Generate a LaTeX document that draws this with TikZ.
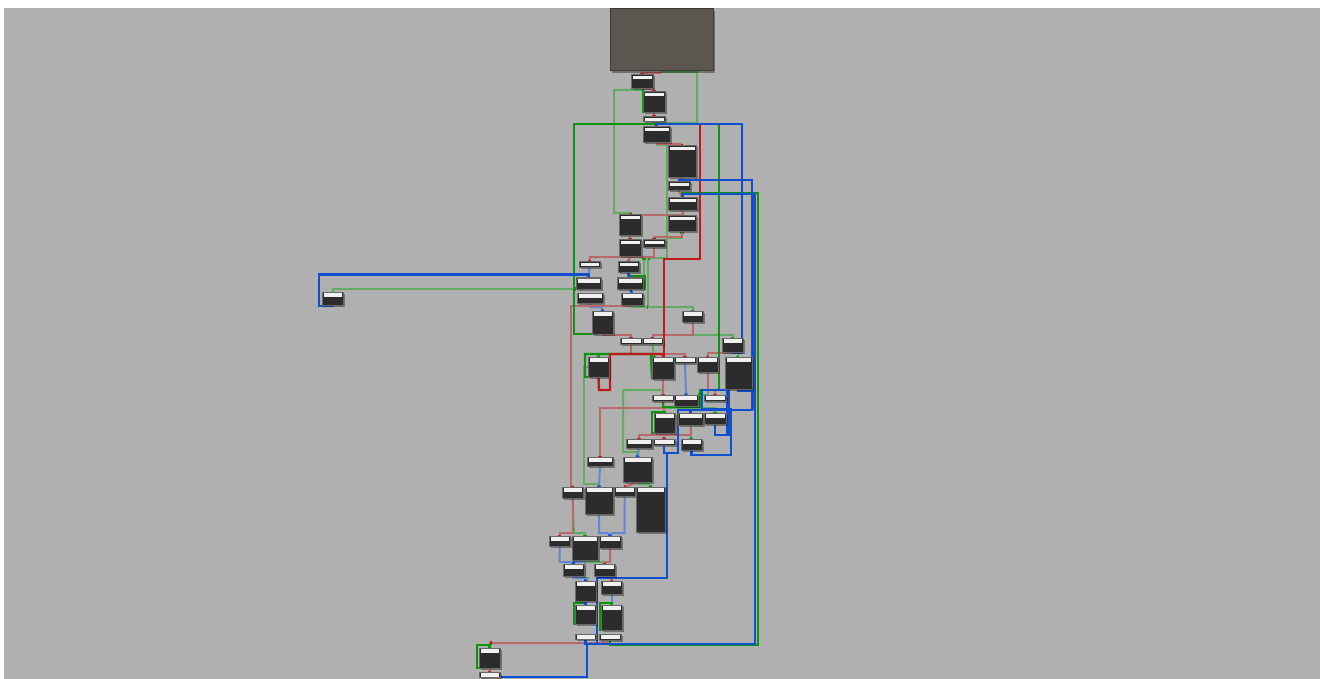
\documentclass[tikz,border=0pt]{standalone}
\usepackage{tikz}
\usetikzlibrary{arrows.meta,backgrounds,shadows}
\definecolor{canvas}{HTML}{B0B0B0}
\definecolor{blkfill}{HTML}{2C2C2C}
\definecolor{blkedge}{HTML}{686868}
\definecolor{topfill}{HTML}{5C5650}
\definecolor{topedge}{HTML}{3E3A36}
\definecolor{redln}{HTML}{BE1C1C}
\definecolor{redfnt}{HTML}{B86A6A}
\definecolor{greenln}{HTML}{109410}
\definecolor{greenfnt}{HTML}{62AC62}
\definecolor{blueln}{HTML}{1050D0}
\definecolor{bluefnt}{HTML}{6484D4}
\tikzset{
  blk/.style 2 args={rectangle,draw=blkedge,fill=blkfill,line width=1pt,anchor=north west,
    minimum width=#1pt,minimum height=#2pt,inner sep=0pt,outer sep=0pt,
    drop shadow={shadow xshift=1.5pt,shadow yshift=-1.5pt,opacity=.35,fill=black},
    path picture={\fill[white!94!black]
      ([xshift=1.5pt,yshift=-1.2pt]path picture bounding box.north west) rectangle
      ([xshift=-1.5pt,yshift=-4.5pt]path picture bounding box.north east);}},
  topbox/.style 2 args={rectangle,draw=topedge,fill=topfill,line width=1pt,anchor=north west,
    minimum width=#1pt,minimum height=#2pt,inner sep=0pt,outer sep=0pt,
    drop shadow={shadow xshift=2pt,shadow yshift=-2pt,opacity=.35,fill=black}},
  redline/.style={line width=2.4pt,draw=redln},
  redfaint/.style={line width=2pt,draw=redfnt,-{Square[length=1.5pt,width=3.4pt,color=redln]}},
  greenline/.style={line width=2.4pt,draw=greenln},
  greenfaint/.style={line width=2pt,draw=greenfnt,-{Square[length=1.5pt,width=3.4pt,color=greenln]}},
  blueline/.style={line width=2.4pt,draw=blueln},
  bluefaint/.style={line width=2pt,draw=bluefnt,-{Square[length=1.5pt,width=3.4pt,color=blueln]}},
}
\begin{document}
\begin{tikzpicture}[x=1pt,y=-1pt]
  \useasboundingbox (0,0) rectangle (1323,679);

  % canvas
  \begin{scope}[on background layer]
    \fill[canvas] (4,8) rectangle (1320,679);
  \end{scope}

  % top block
  \node[topbox={103}{62}] (top) at (610,9) {};

  % upper chain
  \node[blk={22}{14}] (n1) at (631,75) {};
  \node[blk={22}{21}] (n2) at (643,92) {};
  \node[blk={22}{5}] (n3) at (643,117) {};
  \node[blk={27}{16}] (n4) at (643,127) {};
  \node[blk={28}{32}] (n5) at (668,146) {};
  \node[blk={22}{9}] (n6) at (668,182) {};
  \node[blk={29}{13}] (n7) at (668,198) {};
  \node[blk={28}{16}] (n8) at (668,216) {};

  % second group
  \node[blk={22}{21}] (n9) at (619,215) {};
  \node[blk={22}{17}] (n10) at (619,240) {};
  \node[blk={22}{8}] (n11) at (643,240) {};
  \node[blk={21}{6}] (n12) at (579,262) {};
  \node[blk={21}{11}] (n13) at (618,262) {};
  \node[blk={25}{11}] (n14) at (576,278) {};
  \node[blk={26}{11}] (n15) at (617,278) {};
  \node[blk={26}{10}] (n16) at (577,293) {};
  \node[blk={22}{12}] (n17) at (621,293) {};
  \node[blk={21}{23}] (n18) at (592,311) {};
  \node[blk={21}{11}] (n19) at (682,311) {};
  \node[blk={21}{13}] (n56) at (322,292) {};

  % third group
  \node[blk={22}{6}] (n20) at (620,338) {};
  \node[blk={21}{6}] (n21) at (642,338) {};
  \node[blk={21}{14}] (n22) at (722,338) {};
  \node[blk={21}{20}] (n23) at (588,357) {};
  \node[blk={22}{22}] (n24) at (652,357) {};
  \node[blk={22}{6}] (n25) at (674,357) {};
  \node[blk={21}{15}] (n26) at (697,357) {};
  \node[blk={27}{32}] (n27) at (725,357) {};
  \node[blk={22}{6}] (n28) at (652,395) {};
  \node[blk={24}{11}] (n29) at (674,395) {};
  \node[blk={22}{6}] (n30) at (704,395) {};
  \node[blk={21}{20}] (n31) at (654,413) {};
  \node[blk={25}{12}] (n32) at (678,413) {};
  \node[blk={22}{11}] (n33) at (704,413) {};
  \node[blk={26}{9}] (n34) at (626,439) {};
  \node[blk={22}{6}] (n35) at (653,439) {};
  \node[blk={21}{11}] (n36) at (681,439) {};

  % lower group
  \node[blk={26}{9}] (n37) at (587,457) {};
  \node[blk={29}{25}] (n38) at (623,457) {};
  \node[blk={21}{11}] (n39) at (562,487) {};
  \node[blk={28}{27}] (n40) at (585,487) {};
  \node[blk={21}{9}] (n41) at (614,487) {};
  \node[blk={29}{45}] (n42) at (636,487) {};
  \node[blk={21}{10}] (n43) at (549,536) {};
  \node[blk={26}{24}] (n44) at (572,536) {};
  \node[blk={22}{12}] (n45) at (599,536) {};
  \node[blk={21}{12}] (n46) at (563,564) {};
  \node[blk={21}{12}] (n47) at (594,564) {};
  \node[blk={21}{20}] (n48) at (575,581) {};
  \node[blk={21}{13}] (n49) at (601,581) {};
  \node[blk={21}{19}] (n50) at (575,605) {};
  \node[blk={21}{25}] (n51) at (601,605) {};
  \node[blk={21}{5}] (n52) at (575,634) {};
  \node[blk={22}{6}] (n53) at (599,634) {};
  \node[blk={21}{20}] (n54) at (479,648) {};
  \node[blk={21}{5}] (n55) at (479,672) {};

  % junctions
  \coordinate (gj1) at (648,258);
  \coordinate (gj2) at (648,307);
  \coordinate (gj3) at (644,258);
  \coordinate (bj1) at (573,562);
  \coordinate (bj2) at (678,453);
  \coordinate (bj3) at (731,435);
  \coordinate (bj4) at (690.5,410);
  \coordinate (bj5) at (753,195);
  \coordinate (bj6) at (753,410);
  \coordinate (bj7) at (752,391);
  \coordinate (bj8) at (728,390);
  \coordinate (rj1) at (490,643);

  \begin{scope}[on background layer]

  % faint green links
  \draw[greenfaint] (top.south) -- (662,72) -- (697,72) -- (697,123) -| (n4.north);
  \draw[greenfaint] (n1.south) |- (614,90) |- (631,213) -- (n9.north);
  \draw[greenfaint] (n4.south) |- (667,145) -- (667,238) -| (n8.south);
  \draw[greenfaint] (n8.south) |- (667,238) -- (667,258) -- (gj1) -- (gj2) -| (n19.north);
  \draw[greenfaint] (n11.south) |- (gj1);
  \draw[greenfaint] (n19.south) |- (731,335) -| (n22.north);
  \draw[greenfaint] (n17.south) |- (gj2);
  \draw[greenfaint] (n15.east) -| (gj3);
  \draw[greenfaint] (n56.north) |- (n14.south west);
  \draw[greenfaint] (n7.south) -- (n8.north);
  \draw[greenfaint] (n22.south) -| ([xshift=-1pt]n27.north);
  \draw[greenfaint] (n20.south) |- (598,354) -- (n23.north);
  \draw[greenfaint] (n21.south) -- ([xshift=2pt]n24.north west);
  \draw[greenfaint] (n23.west) -| (584,484) -| (n40.north);
  \draw[greenfaint] (n24.south) |- (623,390) |- (637,452) -- (n38.north);
  \draw[greenfaint] (n28.south) |- (715,408) -- (n33.north);
  \draw[greenfaint] (n26.south) |- (n29.north east);
  \draw[greenfaint] (n32.south) -- ([xshift=-0.5pt]n36.north);
  \draw[greenfaint] (n38.south) |- (650,484) -- (n42.north);
  \draw[greenfaint] (n39.south) -- (574,533) -| (n44.north);
  \draw[greenfaint] (n45.south) |- (585,562) |- (588,578) -- (n48.north);

  % faint blue links
  \draw[bluefaint] (n12.south) -- (n14.north);
  \draw[bluefaint] (n16.south) |- (602,307) -- (n18.north);
  \draw[bluefaint] (n25.south) -- (n29.north);
  \draw[bluefaint] (n34.south) -- (n38.north);
  \draw[bluefaint] (n37.south) -- (n40.north);
  \draw[bluefaint] (n40.south) |- (608,533) -- (n45.north);
  \draw[bluefaint] (n41.south) |- (612,533) -- (n45.north);
  \draw[bluefaint] (n43.south) |- (bj1) -- (n46.north);
  \draw[bluefaint] (n44.south) |- (bj1);
  \draw[bluefaint] (n46.south) |- (586,578) -- (n48.north);
  \draw[bluefaint] (n49.south) -- (n51.north);

  % faint red links
  \draw[redfaint] (top.south) -- (660,73) -| (n1.north);
  \draw[redfaint] (n1.south) -| (n2.north);
  \draw[redfaint] (n2.south) -- (n3.north);
  \draw[redfaint] (n3.south) -- (n4.north);
  \draw[redfaint] (n4.south) |- (680,144) -- (n5.north);
  \draw[redfaint] (n5.south) -- (n6.north);
  \draw[redfaint] (n6.south) -- (n7.north);
  \draw[redfaint] (n7.south) |- (n9.north);
  \draw[redfaint] (n8.south) |- (654,237) -- (n11.north);
  \draw[redfaint] (n9.south) -- (n10.north);
  \draw[redfaint] (n10.south) -- (n13.north);
  \draw[redfaint] (n11.south) |- (589.5,257) -- (n12.north);
  \draw[redfaint] (n17.south) |- (571,306) |- (572.5,486) -- (n39.north);
  \draw[redfaint] (n18.south) |- (631,335) -- (n20.north);
  \draw[redfaint] (n19.south) |- (652.5,335) -- (n21.north);
  \draw[redfaint] (n20.south) |- (685,354) -- (n25.north);
  \draw[redfaint] (n22.south) |- (707.5,353) -- (n26.north);
  \draw[redfaint] (n24.south) -- (n28.north);
  \draw[redfaint] (n28.south) -- (n31.north);
  \draw[redfaint] (n28.south) |- (600,408) -- (n37.north);
  \draw[redfaint] (n26.south) |- (715,390) -- (n30.north);
  \draw[redfaint] (n31.south) -- (n35.north);
  \draw[redfaint] (n32.south) |- (639,435) -- (n34.north);
  \draw[redfaint] (n38.south) -- (n41.north);
  \draw[redfaint] (n39.south) |- (559.5,533) -- (n43.north);
  \draw[redfaint] (n45.south) |- (604.5,562) -- (n47.north);
  \draw[redfaint] (n47.south) |- (611.5,578) -- (n49.north);
  \draw[redfaint] (n52.south) |- (rj1) -- (n54.north);
  \draw[redfaint] (n53.south) |- (rj1);
  \draw[redfaint] (n54.south) -- (n55.north);

  % strong green links
  \draw[greenline] (n1.south) -| (643,113) -- (n2.south west);
  \draw[greenline] (n18.south) |- (574,334) -- (574,124) -| (n4.north);
  \draw[greenline] (n4.north) |- (719,124) -- (719,390) -- (700,390) -- (700,407) -| (n28.south);
  \draw[greenline] (n7.north) |- (758,193) -- (758,645) -| (n53.south);
  \draw[greenline] (n13.south) |- (645,276) |- (n15.south east);
  \draw[greenline] (n24.south west) -- (651,354) -- (585,354) |- (n23.south west);
  \draw[greenline] (n31.north) |- (652,412) |- (n31.south west);
  \draw[greenline] (n50.north) |- (574,603) |- (n50.south west);
  \draw[greenline] (n51.north) |- (600,603) |- (n51.south west);
  \draw[greenline] (n54.north) |- (477,645) |- (n54.south west);

  % strong red links
  \draw[redline] (n4.north) |- (700,124) -- (700,259) -- (664,259) |- (n24.north);
  \draw[redline] (n24.north) |- (610,354) |- (599,390) -- (n23.south);

  % strong blue links
  \draw[blueline] (n14.north) |- (319,274.5) |- (332.5,306) -- (n56.south);
  \draw[blueline] (n4.north) |- (742,124) -- (742,353) -| (n22.south);
  \draw[blueline] (n6.north) |- (752,180) -- (bj7);
  \draw[blueline,line width=5pt] (bj5) -- (bj6);
  \draw[blueline] (n7.north) |- (755,194) -- (755,644) -- (587,644) |- (n55.south);
  \draw[blueline] (n27.south) |- (bj7);
  \draw[blueline] (n52.south) |- (597,644) -- (597,578) -- (667,578) -- (667,453) -- (bj2) -- (678,410) -- (bj6);
  \draw[blueline] (n35.south) |- (bj2);
  \draw[blueline] (n36.south) |- (731,455) -- (731,409) -- (702,409) -- (702,390) -- (bj8);
  \draw[blueline,line width=4pt] (bj8) -- (728,435);
  \draw[blueline] (n33.south) |- (bj3);
  \draw[blueline] (n32.north) -- (bj4);
  \draw[blueline] (n13.south) -- (n15.north);
  \draw[blueline] (n15.south) -- (n17.north);
  \draw[blueline] (n48.south) -- (n50.north);

  \end{scope}

\end{tikzpicture}
\end{document}
